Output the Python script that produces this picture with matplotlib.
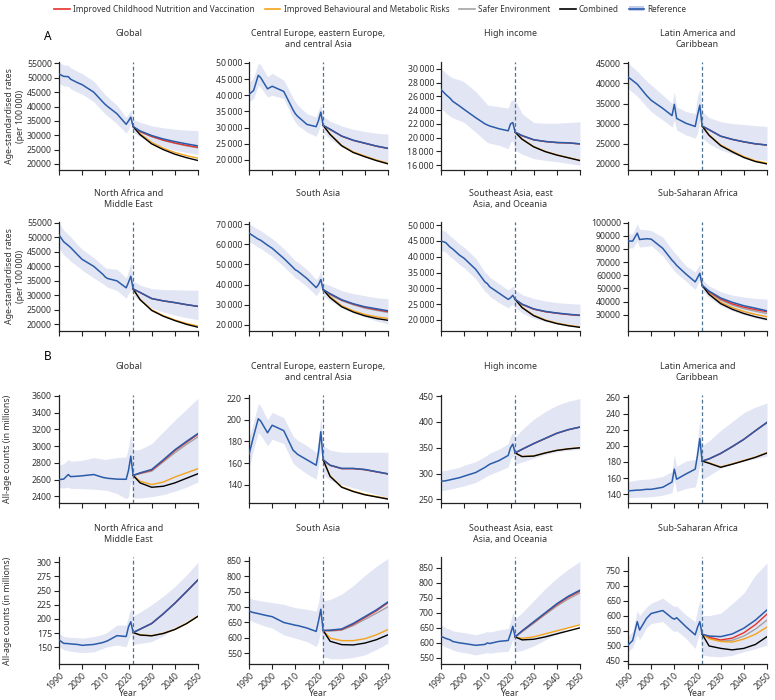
"""Projected mortality under three risk scenarios vs reference, 1990-2050 (GBD-style 4x4 panel grid)."""

import matplotlib

matplotlib.use("Agg")
import matplotlib.pyplot as plt
from matplotlib.lines import Line2D
from matplotlib.patches import Patch

plt.rcParams["font.family"] = ["Noto Sans", "DejaVu Sans"]
plt.rcParams["font.stretch"] = "condensed"

YEARS_HIST = [1990, 1992, 1994, 1995, 1998, 2000, 2005, 2009, 2010, 2011, 2015, 2019, 2020, 2021]
YEARS_FC = [2022, 2025, 2030, 2035, 2040, 2045, 2050]

TITLES = ["Global", "Central Europe, eastern Europe,\nand central Asia", "High income",
          "Latin America and\nCaribbean", "North Africa and\nMiddle East", "South Asia",
          "Southeast Asia, east\nAsia, and Oceania", "Sub-Saharan Africa"]

# ---- A: age-standardised rates (per 100 000) ----
global_rate = dict(
    ref=[51300, 50500, 50400, 49500, 48300, 47600, 45000, 41500, 40700, 40000, 37500, 33800, 35000, 36300],
    hi=[55400, 54500, 54300, 53500, 52200, 51500, 48800, 45000, 44000, 43300, 40500, 36200, 37500, 38700],
    lo=[48000, 47200, 47000, 46200, 45000, 44300, 41700, 38200, 37400, 36700, 34000, 30700, 32000, 34000],
    fc_ref=[33000, 31500, 29900, 28700, 27800, 27000, 26300],
    fc_hi=[35500, 34500, 33300, 32600, 32100, 31800, 31600],
    fc_lo=[31000, 29500, 27500, 26000, 24800, 24000, 23300],
    nut=[33000, 31300, 29600, 28300, 27300, 26500, 25800],
    env=[33000, 31200, 29500, 28200, 27200, 26300, 25600],
    beh=[33000, 30500, 27500, 25500, 24000, 22900, 22000],
    comb=[33000, 30200, 27000, 25000, 23400, 22200, 21200],
)
ceea_rate = dict(
    ref=[40300, 41500, 46200, 45500, 42000, 42800, 41200, 35500, 34300, 33500, 31000, 30300, 32200, 34800],
    hi=[43700, 45500, 49900, 49500, 45700, 46800, 44700, 39200, 38000, 37000, 34300, 33300, 35500, 37000],
    lo=[38000, 39000, 43100, 42500, 39500, 40000, 39000, 32800, 31700, 30800, 28600, 27300, 29000, 31200],
    fc_ref=[30700, 29500, 27400, 26100, 25200, 24300, 23600],
    fc_hi=[33500, 32000, 30500, 29500, 28800, 28300, 28000],
    fc_lo=[28500, 26500, 24000, 22500, 21200, 20200, 19300],
    nut=[30700, 29450, 27350, 26050, 25150, 24250, 23550],
    env=[30700, 29500, 27400, 26100, 25200, 24300, 23600],
    beh=[30700, 28000, 24500, 22500, 21200, 20000, 19000],
    comb=[30700, 27900, 24400, 22300, 21000, 19800, 18800],
)
hi_rate = dict(
    ref=[27000, 26300, 25700, 25300, 24600, 24100, 22900, 22000, 21850, 21700, 21300, 21000, 22000, 22200],
    hi=[30100, 29400, 28900, 28700, 28400, 28100, 26700, 25200, 24800, 24700, 24500, 24300, 25300, 25500],
    lo=[24300, 23600, 23100, 22900, 22500, 22200, 20800, 19600, 19300, 19200, 18900, 18400, 19300, 19600],
    fc_ref=[20800, 20300, 19700, 19450, 19300, 19250, 19100],
    fc_hi=[25500, 23500, 22200, 22100, 22100, 22200, 22300],
    fc_lo=[18200, 17600, 16950, 16700, 16500, 16250, 16000],
    nut=[20800, 20280, 19680, 19430, 19280, 19230, 19080],
    env=[20800, 20300, 19700, 19450, 19300, 19250, 19100],
    beh=[20800, 19800, 18700, 18000, 17500, 17100, 16700],
    comb=[20800, 19770, 18670, 17970, 17470, 17070, 16670],
)
latam_rate = dict(
    ref=[41600, 40700, 39800, 39100, 37000, 35800, 33800, 32000, 34800, 31300, 30100, 29300, 32100, 34600],
    hi=[45100, 44000, 43000, 42400, 40600, 39600, 37100, 35000, 37900, 34200, 33000, 32500, 36700, 38700],
    lo=[38700, 37800, 36800, 36200, 34200, 33000, 30900, 29200, 30900, 28400, 27200, 26400, 27600, 30900],
    fc_ref=[29400, 28500, 26900, 26100, 25500, 25000, 24700],
    fc_hi=[33000, 31500, 30500, 30000, 29800, 29500, 29300],
    fc_lo=[26500, 25000, 23500, 22500, 21800, 21200, 20800],
    nut=[29400, 28480, 26880, 26080, 25480, 24980, 24680],
    env=[29400, 28500, 26900, 26100, 25500, 25000, 24700],
    beh=[29400, 27200, 24700, 23200, 21800, 20800, 20200],
    comb=[29400, 27100, 24550, 23000, 21600, 20600, 20000],
)
nafme_rate = dict(
    ref=[50800, 48500, 47200, 46500, 44000, 42400, 40000, 37200, 36300, 35800, 35000, 32600, 34500, 36600],
    hi=[55200, 52500, 51000, 50200, 47500, 45900, 43000, 40200, 39500, 39300, 39000, 36000, 38500, 41300],
    lo=[46200, 44000, 42600, 41800, 40000, 38700, 36000, 34000, 33400, 32800, 31700, 29000, 30500, 32000],
    fc_ref=[32200, 31000, 28900, 28100, 27500, 26800, 26200],
    fc_hi=[35000, 33500, 32300, 32000, 31900, 31800, 31800],
    fc_lo=[30000, 28000, 25600, 24300, 23200, 22300, 21600],
    nut=[32200, 30980, 28880, 28080, 27480, 26780, 26180],
    env=[32200, 31000, 28900, 28100, 27500, 26800, 26200],
    beh=[32200, 28600, 25000, 23000, 21500, 20300, 19400],
    comb=[32200, 28500, 24800, 22800, 21300, 20000, 19000],
)
sa_rate = dict(
    ref=[65500, 64000, 62500, 62000, 59500, 58000, 53000, 48500, 47300, 46700, 43000, 38500, 40000, 42500],
    hi=[70000, 68800, 67300, 66800, 64300, 62800, 57800, 53000, 51800, 51200, 47500, 42500, 44000, 47000],
    lo=[61500, 60000, 58500, 58000, 55500, 54000, 49000, 44500, 43300, 42700, 39000, 34500, 36000, 38500],
    fc_ref=[37500, 35500, 32500, 30500, 29000, 28000, 27000],
    fc_hi=[41000, 39500, 37000, 35500, 34500, 33500, 33000],
    fc_lo=[34500, 32000, 28500, 26000, 24000, 22000, 20500],
    nut=[37500, 35300, 32300, 30300, 28700, 27600, 26600],
    env=[37500, 35000, 32000, 30000, 28300, 27200, 26200],
    beh=[37500, 34000, 29500, 27000, 25200, 24000, 23200],
    comb=[37500, 33500, 29000, 26400, 24500, 23200, 22300],
)
seao_rate = dict(
    ref=[45000, 44500, 43000, 42500, 40500, 39500, 36000, 32000, 31500, 30500, 28500, 26500, 27000, 27800],
    hi=[48500, 48000, 46500, 46000, 44000, 43000, 39500, 35000, 34500, 33500, 31500, 29500, 30000, 30800],
    lo=[42000, 41500, 40000, 39500, 37500, 36500, 33000, 29000, 28500, 27500, 25500, 23800, 24500, 25000],
    fc_ref=[26500, 25000, 23500, 22700, 22200, 21800, 21500],
    fc_hi=[29500, 28000, 26800, 26000, 25500, 25200, 25000],
    fc_lo=[24000, 22200, 20500, 19500, 18800, 18200, 17800],
    nut=[26500, 24900, 23400, 22600, 22100, 21700, 21400],
    env=[26500, 24950, 23450, 22650, 22150, 21750, 21450],
    beh=[26500, 24000, 21500, 20000, 19000, 18300, 17800],
    comb=[26500, 23900, 21350, 19850, 18850, 18150, 17650],
)
ssa_rate = dict(
    ref=[86000, 86000, 92000, 87200, 87800, 87500, 80500, 71500, 69700, 67500, 61000, 55000, 58200, 61500],
    hi=[91500, 91500, 99200, 95000, 94500, 94100, 89000, 79500, 77400, 75500, 67200, 62600, 65500, 68500],
    lo=[80800, 80800, 86000, 81500, 82000, 82600, 74900, 65500, 63300, 61500, 55600, 49200, 53000, 56900],
    fc_ref=[52300, 48000, 42800, 39500, 36900, 35000, 33000],
    fc_hi=[57000, 52000, 47500, 45000, 43500, 42500, 42000],
    fc_lo=[48000, 43000, 37000, 33000, 30000, 27600, 25700],
    nut=[52300, 47500, 42000, 38300, 35800, 33900, 32300],
    env=[52300, 47000, 41200, 37400, 34700, 32700, 31000],
    beh=[52300, 46000, 39500, 35500, 32500, 30300, 28500],
    comb=[52300, 45500, 38500, 34200, 31000, 28500, 26500],
)

# ---- B: all-age counts (millions) ----
global_count = dict(
    ref=[2600, 2605, 2660, 2635, 2640, 2645, 2660, 2625, 2620, 2615, 2605, 2603, 2710, 2880],
    hi=[2771, 2790, 2840, 2820, 2825, 2830, 2862, 2845, 2840, 2845, 2862, 2870, 2990, 3150],
    lo=[2504, 2500, 2510, 2495, 2493, 2492, 2485, 2475, 2472, 2468, 2432, 2372, 2392, 2591],
    fc_ref=[2650, 2680, 2720, 2835, 2955, 3055, 3150],
    fc_hi=[2950, 2960, 3030, 3170, 3310, 3440, 3570],
    fc_lo=[2380, 2380, 2395, 2420, 2460, 2510, 2570],
    nut=[2650, 2675, 2712, 2825, 2945, 3045, 3140],
    env=[2650, 2670, 2700, 2810, 2920, 3020, 3110],
    beh=[2650, 2580, 2540, 2570, 2630, 2680, 2730],
    comb=[2650, 2560, 2508, 2520, 2560, 2615, 2670],
)
ceea_count = dict(
    ref=[168, 185, 201, 199, 188, 195, 190, 172, 170, 168, 163, 158, 170, 189],
    hi=[183, 198, 215, 213, 200, 207, 202, 185, 183, 181, 176, 170, 182, 203],
    lo=[155, 173, 188, 186, 176, 182, 178, 160, 158, 156, 150, 145, 157, 175],
    fc_ref=[163, 158, 155, 155, 154, 152, 150],
    fc_hi=[176, 172, 170, 170, 170, 170, 170],
    fc_lo=[150, 144, 140, 137, 134, 131, 128],
    nut=[163, 157.8, 154.8, 154.8, 153.8, 151.8, 149.8],
    env=[163, 158, 155, 155, 154, 152, 150],
    beh=[163, 148, 138, 134, 131, 129, 127],
    comb=[163, 147.7, 137.6, 133.6, 130.6, 128.6, 126.6],
)
hi_count = dict(
    ref=[285, 286, 288, 289, 292, 295, 302, 312, 315, 318, 325, 335, 350, 357],
    hi=[305, 306, 308, 309, 312, 316, 323, 333, 336, 339, 347, 358, 372, 380],
    lo=[267, 268, 270, 271, 274, 276, 283, 293, 296, 298, 305, 313, 328, 335],
    fc_ref=[340, 347, 358, 368, 378, 385, 390],
    fc_hi=[370, 385, 405, 420, 432, 440, 445],
    fc_lo=[318, 322, 330, 337, 342, 345, 347],
    nut=[340, 346.8, 357.8, 367.8, 377.8, 384.8, 389.8],
    env=[340, 347, 358, 368, 378, 385, 390],
    beh=[340, 333, 334, 340, 345, 348, 350],
    comb=[340, 332.8, 333.8, 339.8, 344.8, 347.8, 349.8],
)
latam_count = dict(
    ref=[144, 144.5, 145, 145, 146, 146, 148.5, 155, 171, 158.5, 165, 171, 188, 209],
    hi=[155.6, 156.5, 157.5, 158, 158.5, 159, 162, 168, 189, 174.5, 181, 183, 206, 233],
    lo=[135.8, 136, 136.2, 136.3, 136.5, 136.6, 138.7, 141.7, 157.7, 143, 147, 149, 160, 178.7],
    fc_ref=[181, 183.8, 190.5, 199, 208, 218.7, 229],
    fc_hi=[200, 206, 219, 230, 241, 248, 253],
    fc_lo=[158, 163, 172, 177, 181, 184, 187],
    nut=[181, 183.7, 190.4, 198.9, 207.9, 218.6, 228.9],
    env=[181, 183.8, 190.5, 199, 208, 218.7, 229],
    beh=[181, 178.7, 173.7, 177.5, 181.7, 186, 191.4],
    comb=[181, 178.3, 173.3, 177.1, 181.3, 185.6, 191],
)
nafme_count = dict(
    ref=[163, 157, 156.5, 156, 155, 153.5, 155, 158.5, 160, 161.5, 170.5, 169, 186, 195],
    hi=[174.7, 169, 168, 167.5, 167, 166, 168.8, 173, 174.7, 177, 189, 189, 205, 218.5],
    lo=[151, 146, 144, 143, 141.5, 140.6, 142, 148, 150, 151, 154, 151, 163, 175],
    fc_ref=[176, 182, 192, 209, 227.6, 248, 268.8],
    fc_hi=[205, 212, 225, 240, 257, 277, 300],
    fc_lo=[155, 157, 160, 170, 184, 196, 207],
    nut=[176, 181.8, 191.8, 208.8, 227.4, 247.8, 268.6],
    env=[176, 182, 192, 209, 227.6, 248, 268.8],
    beh=[176, 172, 170.6, 174.7, 181.7, 192, 205],
    comb=[176, 171.6, 170.2, 174.3, 181.3, 191.6, 204.6],
)
sa_count = dict(
    ref=[687, 682, 679, 677, 672, 669, 650, 643, 641, 640, 632, 621, 654, 693],
    hi=[731, 725, 722, 720, 717, 715, 709, 700, 698, 697, 693, 687, 715, 764],
    lo=[660, 652, 646, 643, 636, 632, 610, 601, 599, 597, 588, 572, 588, 627],
    fc_ref=[624, 625, 629, 647, 669, 691, 717],
    fc_hi=[720, 725, 742, 770, 803, 833, 858],
    fc_lo=[540, 532, 532, 536, 545, 562, 583],
    nut=[624, 624, 627, 644, 666, 688, 714],
    env=[624, 622, 625, 640, 660, 680, 701],
    beh=[624, 599, 591, 591, 597, 610, 627],
    comb=[624, 589, 578, 577, 583, 594, 610],
)
seao_count = dict(
    ref=[622, 615, 610, 605, 600, 598, 592, 595, 600, 598, 605, 608, 630, 655],
    hi=[660, 650, 645, 640, 636, 634, 627, 635, 638, 636, 643, 648, 672, 700],
    lo=[595, 586, 581, 576, 570, 568, 560, 566, 568, 566, 570, 572, 590, 612],
    fc_ref=[620, 640, 670, 700, 730, 755, 775],
    fc_hi=[680, 700, 740, 780, 815, 845, 870],
    fc_lo=[570, 575, 590, 610, 630, 650, 665],
    nut=[620, 639, 668, 698, 727, 752, 772],
    env=[620, 637, 665, 694, 722, 746, 766],
    beh=[620, 615, 620, 630, 640, 650, 660],
    comb=[620, 610, 612, 620, 630, 640, 650],
)
ssa_count = dict(
    ref=[502, 517, 580, 552, 591, 607, 617, 592, 588, 593, 563, 536, 561, 580],
    hi=[530, 548, 617, 600, 628, 641, 658, 635, 630, 632, 602, 580, 620, 652],
    lo=[480, 494, 536, 520, 560, 574, 580, 552, 547, 550, 524, 491, 519, 541],
    fc_ref=[538, 532, 530, 539, 558, 585, 619],
    fc_hi=[600, 600, 608, 640, 675, 735, 775],
    fc_lo=[470, 465, 463, 468, 480, 490, 502],
    nut=[538, 528, 519, 525, 543, 570, 605],
    env=[538, 526, 515, 518, 532, 555, 585],
    beh=[538, 523, 514, 512, 522, 538, 562],
    comb=[538, 499, 491, 486, 491, 504, 530],
)

RATE_PANELS = [global_rate, ceea_rate, hi_rate, latam_rate, nafme_rate, sa_rate, seao_rate, ssa_rate]
COUNT_PANELS = [global_count, ceea_count, hi_count, latam_count, nafme_count, sa_count, seao_count, ssa_count]

RATE_TICKS = [list(range(20000, 55001, 5000)), list(range(20000, 50001, 5000)),
              list(range(16000, 30001, 2000)), list(range(20000, 45001, 5000)),
              list(range(20000, 55001, 5000)), list(range(20000, 70001, 10000)),
              list(range(20000, 50001, 5000)), list(range(30000, 100001, 10000))]
RATE_SPACED = [False, True, True, False, False, True, True, False]
COUNT_TICKS = [list(range(2400, 3601, 200)), list(range(140, 221, 20)),
               list(range(250, 451, 50)), list(range(140, 261, 20)),
               list(range(150, 301, 25)), list(range(550, 851, 50)),
               list(range(550, 851, 50)), list(range(450, 751, 50))]

RATE_YLIM = [(17900, 55500), (16900, 50300), (15300, 31000), (18500, 45300),
             (17700, 55300), (17000, 71000), (16500, 51000), (17700, 100500)]
COUNT_YLIM = [(2320, 3610), (123, 223), (243, 452), (129, 263),
              (120.6, 309), (515, 863), (530, 885), (439, 795)]

BLUE = "#2a5caa"
BAND = "#e2e5f4"
RED = "#e8312b"
ORANGE = "#f5a31a"
GREY = "#a3a3a3"
DASH = "#4e7390"
TXT = "#333333"

W, H = 775, 700
COL_LEFT = [59, 249, 441, 628]
AX_W = 139
ROWS = [(62, 170), (222, 331), (395, 503), (557, 664)]

fig = plt.figure(figsize=(W / 100, H / 100), dpi=100)


def fmt_tick(v, spaced):
    s = f"{v:,}"
    return s.replace(",", "\u2009") if spaced else s.replace(",", "")


def draw_panel(ax, d, ticks, ylim, spaced, show_x):
    years = YEARS_HIST + YEARS_FC
    ax.fill_between(years, d["lo"] + d["fc_lo"], d["hi"] + d["fc_hi"], color=BAND, lw=0, zorder=1)
    ax.plot(YEARS_FC, d["env"], color=GREY, lw=1.0, zorder=2)
    ax.plot(YEARS_FC, d["nut"], color=RED, lw=1.0, zorder=3)
    ax.plot(YEARS_FC, d["beh"], color=ORANGE, lw=1.0, zorder=3)
    ax.plot(YEARS_FC, d["comb"], color="black", lw=1.0, zorder=3)
    ax.plot(years, d["ref"] + d["fc_ref"], color=BLUE, lw=1.1, zorder=4)
    ax.axvline(2022, color=DASH, lw=0.9, ls=(0, (3, 2)), zorder=5)
    ax.set_xlim(1990, 2050)
    ax.set_ylim(ylim)
    ax.set_xticks(range(1990, 2051, 10))
    ax.set_yticks(ticks)
    ax.set_yticklabels([fmt_tick(t, spaced) for t in ticks])
    for side in ("top", "right"):
        ax.spines[side].set_visible(False)
    for side in ("left", "bottom"):
        ax.spines[side].set_linewidth(0.9)
        ax.spines[side].set_color("#222222")
    ax.tick_params(length=3.5, width=0.8, colors="#222222", labelsize=6.3, labelcolor=TXT, pad=1.5)
    if show_x:
        ax.set_xticklabels([str(y) for y in range(1990, 2051, 10)], rotation=45,
                           ha="right", rotation_mode="anchor")
        ax.set_xlabel("Year", fontsize=6.3, color=TXT, labelpad=-2)
    else:
        ax.set_xticklabels([])


row_sets = [(RATE_PANELS, RATE_TICKS, RATE_YLIM, RATE_SPACED),
            (COUNT_PANELS, COUNT_TICKS, COUNT_YLIM, [False] * 8)]
for block, (panels, ticks, ylims, spaced) in enumerate(row_sets):
    for i, d in enumerate(panels):
        r = block * 2 + i // 4
        c = i % 4
        top, bottom = ROWS[r]
        left = COL_LEFT[c]
        ax = fig.add_axes([left / W, 1 - bottom / H, AX_W / W, (bottom - top) / H])
        draw_panel(ax, d, ticks[i], ylims[i], spaced[i], show_x=(r == 3))
        fig.text((left + AX_W / 2) / W, 1 - (top - 33) / H, TITLES[i], ha="center", va="top",
                 fontsize=6.4, color=TXT, linespacing=1.35)

# y labels
for r in (0, 1):
    top, bottom = ROWS[r]
    fig.text(15 / W, 1 - (top + bottom) / 2 / H, "Age-standardised rates\n(per 100\u2009000)",
             rotation=90, ha="center", va="center", fontsize=6.3, color=TXT, linespacing=1.4)
for r in (2, 3):
    top, bottom = ROWS[r]
    fig.text(8 / W, 1 - (top + bottom) / 2 / H, "All-age counts (in millions)",
             rotation=90, ha="center", va="center", fontsize=6.3, color=TXT)

fig.text(44 / W, 1 - 37 / H, "A", fontsize=8.5, fontweight="bold", va="center")
fig.text(44 / W, 1 - 357 / H, "B", fontsize=8.5, fontweight="bold", va="center")

handles = [Line2D([], [], color=RED, lw=1.2), Line2D([], [], color=ORANGE, lw=1.2),
           Line2D([], [], color=GREY, lw=1.2), Line2D([], [], color="black", lw=1.2),
           (Patch(facecolor="#c5cdee", edgecolor="none"), Line2D([], [], color=BLUE, lw=1.2))]
labels = ["Improved Childhood Nutrition and Vaccination", "Improved Behavioural and Metabolic Risks",
          "Safer Environment", "Combined", "Reference"]
fig.legend(handles, labels, loc="upper center", bbox_to_anchor=(0.478, 1.0), ncol=5,
           frameon=False, fontsize=5.9, handlelength=1.9, handleheight=0.45, columnspacing=1.2,
           handletextpad=0.4, borderaxespad=0.15, labelcolor=TXT)

fig.savefig("out.png", dpi=100)
